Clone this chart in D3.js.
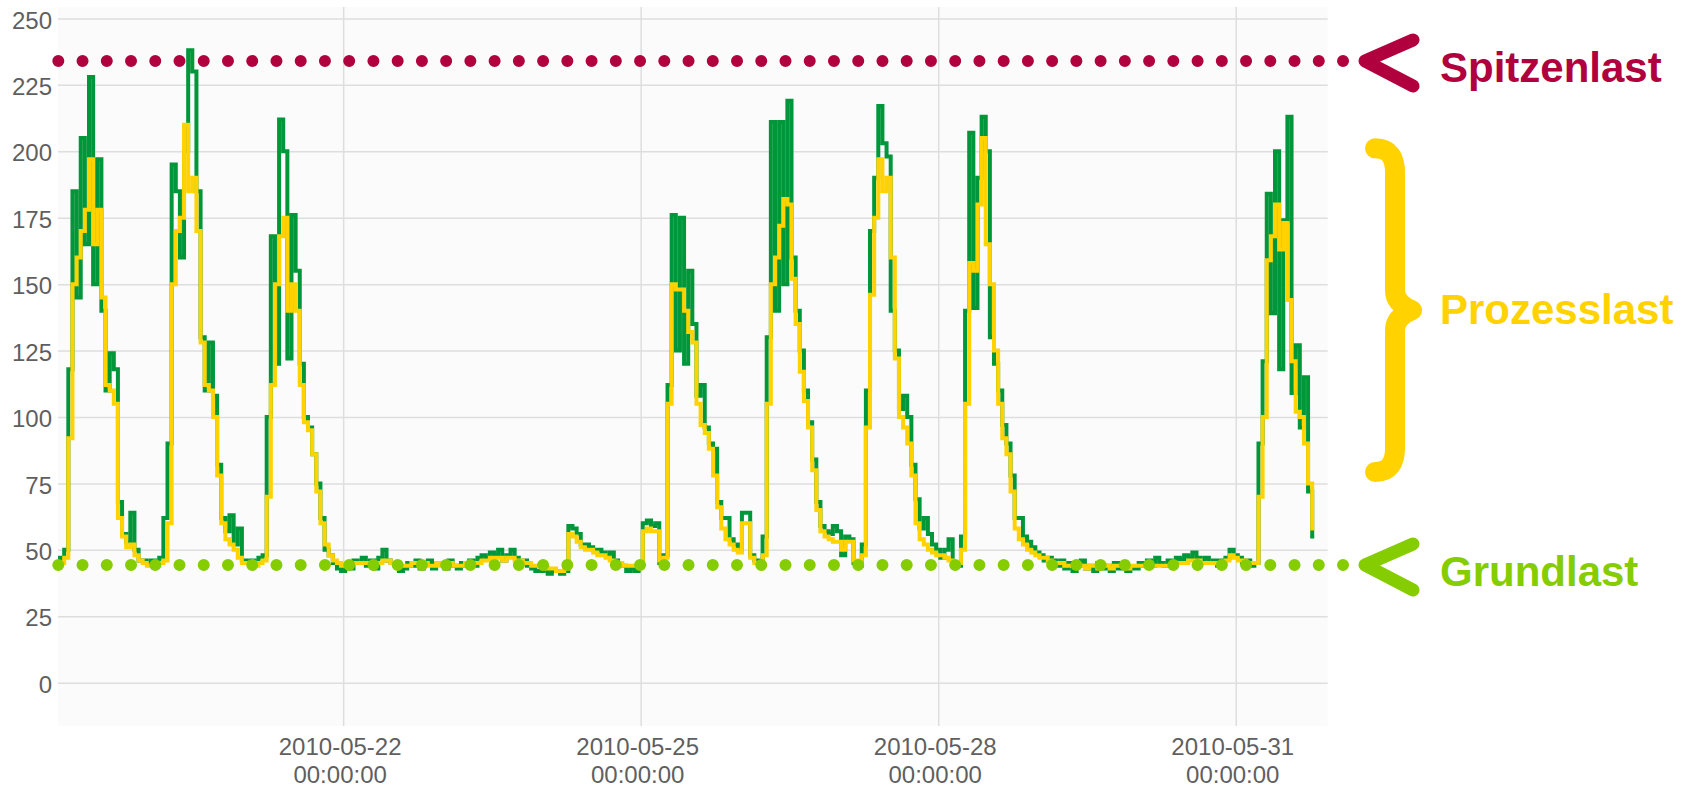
<!DOCTYPE html>
<html>
<head>
<meta charset="utf-8">
<script src="https://cdn.jsdelivr.net/npm/d3@7"></script>
<style>
  body { margin: 0; background: #fff; }
  svg { display: block; font-family: "Liberation Sans", Arial, sans-serif; }
  .axis text { fill: #5f5f5f; font-size: 24px; }
  .grid line { stroke: #dedede; stroke-width: 1.5; }
  .grid .domain { display: none; }
</style>
</head>
<body>
<svg id="chart"></svg>
<script>
// hourly readings, first one at 2010-05-19 03:00
const firstReading = "2010-05-19T03:00:00Z";

// yellow series (smoothed load)
const smoothLoad = [
  // 05-19 (from 03:00)
  45,45,47,92,150,160,170,178,197,165,178,145,112,110,105,62,55,51,52,48,46,
  // 05-20
  45,44,44,44,45,46,60,150,170,175,210,185,190,170,128,112,110,100,78,60,54,52,50,47,
  // 05-21
  45,45,45,44,45,46,70,112,150,168,175,140,150,140,112,98,95,86,72,60,52,48,46,45,
  // 05-22
  44,44,45,45,45,45,45,44,45,45,46,46,45,45,44,44,44,45,45,44,45,44,44,45,
  // 05-23
  44,44,45,44,44,44,45,44,45,45,46,46,47,47,47,46,47,47,46,46,45,45,44,44,
  // 05-24
  44,43,43,43,42,42,43,56,55,53,51,50,50,49,48,48,47,46,45,45,44,44,44,44,
  // 05-25
  45,57,58,57,57,46,47,105,150,148,148,140,132,128,105,97,94,88,78,66,58,54,52,50,
  // 05-26
  49,60,60,47,45,45,48,105,150,160,172,182,180,152,135,117,106,96,80,65,57,55,54,53,
  // 05-27
  53,50,53,53,46,45,48,96,146,175,197,185,190,160,122,100,96,90,78,60,54,52,50,49,
  // 05-28
  48,48,47,46,45,45,50,105,158,155,180,205,165,150,125,105,92,86,72,58,54,52,50,49,
  // 05-29
  48,47,47,46,45,45,45,44,44,44,44,44,43,44,44,43,44,44,43,44,44,44,43,44,
  // 05-30
  44,44,44,44,44,44,44,44,44,44,45,45,45,46,46,46,45,45,45,45,45,45,46,48,
  // 05-31 (until 19:00)
  47,46,46,45,45,45,70,100,159,168,180,163,173,144,121,102,100,90,75,58
];

// green series (raw load)
const rawLoad = [
  46,47,50,118,185,145,205,165,228,150,197,140,110,124,118,68,56,53,64,50,46,
  46,45,46,45,47,62,90,195,185,160,200,238,230,185,130,110,128,108,82,62,57,63,52,58,
  46,45,46,45,47,48,100,168,120,212,200,122,176,155,120,100,96,86,75,62,50,48,45,43,
  42,44,43,46,45,47,44,46,43,47,50,46,45,44,42,43,45,44,46,43,45,46,43,45,
  45,43,46,44,43,45,44,46,44,47,48,47,49,48,50,46,48,50,47,45,46,44,43,42,
  42,43,41,42,42,41,42,59,58,56,52,52,51,50,50,49,48,49,46,45,44,42,43,42,
  44,60,61,59,60,45,48,112,176,125,175,120,155,135,108,112,96,90,88,68,62,62,54,52,
  50,64,64,48,46,44,55,130,211,140,211,150,219,160,140,125,110,98,84,68,59,57,56,59,
  57,48,55,54,45,44,52,110,170,190,217,203,198,140,125,103,108,100,82,69,58,62,56,52,
  50,47,50,54,44,44,55,140,207,141,190,213,200,130,120,110,97,90,78,62,62,55,53,51,
  49,48,46,47,46,44,46,43,45,42,44,46,43,44,42,45,43,44,42,45,43,44,42,43,
  43,45,44,46,44,47,45,44,46,45,47,46,48,47,49,47,46,47,45,46,44,46,47,50,
  48,47,45,46,44,45,90,121,184,139,200,118,174,213,109,127,96,115,72,55
];

const yTicks = [0, 25, 50, 75, 100, 125, 150, 175, 200, 225, 250];
const xTicks = ["2010-05-22", "2010-05-25", "2010-05-28", "2010-05-31"];

// annotation levels
const peakLevel = 234;
const baseLevel = 44.3;
const processBand = [79.3, 201.1];
const labels = ["Spitzenlast", "Prozesslast", "Grundlast"];

const width = 1690, height = 788;
const plot = { left: 58, right: 1327.7, top: 7, bottom: 726 };

const times = rawLoad.map((d, i) => d3.utcHour.offset(new Date(firstReading), i));

const svg = d3.select("#chart")
  .attr("width", width)
  .attr("height", height);

const x = d3.scaleUtc()
  .domain([new Date(firstReading), new Date("2010-05-31T22:15:00Z")])
  .range([plot.left, plot.right]);

const y = d3.scaleLinear()
  .domain([-16.3, 254.3])
  .range([plot.bottom, plot.top]);

svg.append("rect")
  .attr("x", plot.left)
  .attr("y", plot.top)
  .attr("width", plot.right - plot.left)
  .attr("height", plot.bottom - plot.top)
  .attr("fill", "#fbfbfb");

svg.append("defs").append("clipPath")
  .attr("id", "plotclip")
  .append("rect")
  .attr("x", plot.left)
  .attr("y", plot.top)
  .attr("width", plot.right - plot.left)
  .attr("height", plot.bottom - plot.top);

// grid
svg.append("g")
  .attr("class", "grid")
  .attr("transform", `translate(${plot.left},0)`)
  .call(d3.axisLeft(y).tickValues(yTicks).tickSize(-(plot.right - plot.left)).tickFormat(""));

svg.append("g")
  .attr("class", "grid")
  .attr("transform", `translate(0,${plot.bottom})`)
  .call(d3.axisBottom(x).tickValues(xTicks.map(d => new Date(d + "T00:00:00Z")))
    .tickSize(-(plot.bottom - plot.top)).tickFormat(""));

// y labels
const yAxis = svg.append("g")
  .attr("class", "axis")
  .attr("transform", `translate(${plot.left},0)`)
  .call(d3.axisLeft(y).tickValues(yTicks).tickSize(0).tickPadding(6));
yAxis.select(".domain").remove();
yAxis.selectAll("text").attr("dy", "0.4em").style("font-family", null).style("font-size", null);

// x labels, two lines
const xLab = svg.append("g")
  .attr("class", "axis")
  .selectAll("text")
  .data(xTicks)
  .enter()
  .append("text")
  .attr("text-anchor", "middle")
  .attr("x", d => x(new Date(d + "T00:00:00Z")) - 3);
xLab.append("tspan").attr("y", 755).text(d => d);
xLab.append("tspan").attr("y", 783).attr("x", d => x(new Date(d + "T00:00:00Z")) - 3).text("00:00:00");

// series, both drawn as steps like the logger output
const lines = svg.append("g").attr("clip-path", "url(#plotclip)");

const line = d3.line()
  .curve(d3.curveStep)
  .x((d, i) => x(times[i]))
  .y(d => y(d));

lines.append("path")
  .datum(rawLoad)
  .attr("fill", "none")
  .attr("stroke", "#00963a")
  .attr("stroke-width", 4)
  .attr("d", line);

lines.append("path")
  .datum(smoothLoad)
  .attr("fill", "none")
  .attr("stroke", "#ffd200")
  .attr("stroke-width", 4)
  .attr("d", line);

// dotted levels + chevrons
const levels = [
  { v: peakLevel, color: "#b0003e", label: labels[0] },
  { v: baseLevel, color: "#85cc00", label: labels[2] }
];

levels.forEach(l => {
  const yy = y(l.v);
  svg.append("line")
    .attr("x1", 58.3).attr("x2", 1345)
    .attr("y1", yy).attr("y2", yy)
    .attr("stroke", l.color)
    .attr("stroke-width", 12)
    .attr("stroke-linecap", "round")
    .attr("stroke-dasharray", "0 24.24");

  svg.append("path")
    .attr("d", `M1413,${yy - 21}L1365,${yy}L1413,${yy + 25}`)
    .attr("fill", "none")
    .attr("stroke", l.color)
    .attr("stroke-width", 13)
    .attr("stroke-linecap", "round")
    .attr("stroke-linejoin", "round");

  svg.append("text")
    .attr("x", 1440)
    .attr("y", yy + 21)
    .attr("fill", l.color)
    .style("font-size", "42px")
    .style("font-weight", "bold")
    .text(l.label);
});

// brace for the process band
const bTop = y(processBand[1]);
const bBot = y(processBand[0]);
const bMid = (bTop + bBot) / 2;
svg.append("path")
  .attr("d", `M1375,${bTop} C1390,${bTop} 1395,${bTop + 10} 1395,${bTop + 24}
    L1395,${bMid - 20} C1395,${bMid - 10} 1402,${bMid - 4} 1412,${bMid}
    C1402,${bMid + 4} 1395,${bMid + 10} 1395,${bMid + 20}
    L1395,${bBot - 24} C1395,${bBot - 10} 1390,${bBot} 1375,${bBot}`)
  .attr("fill", "none")
  .attr("stroke", "#ffd200")
  .attr("stroke-width", 20)
  .attr("stroke-linecap", "round")
  .attr("stroke-linejoin", "round");

svg.append("text")
  .attr("x", 1440)
  .attr("y", bMid + 14)
  .attr("fill", "#ffd200")
  .style("font-size", "42px")
  .style("font-weight", "bold")
  .text(labels[1]);
</script>
</body>
</html>
